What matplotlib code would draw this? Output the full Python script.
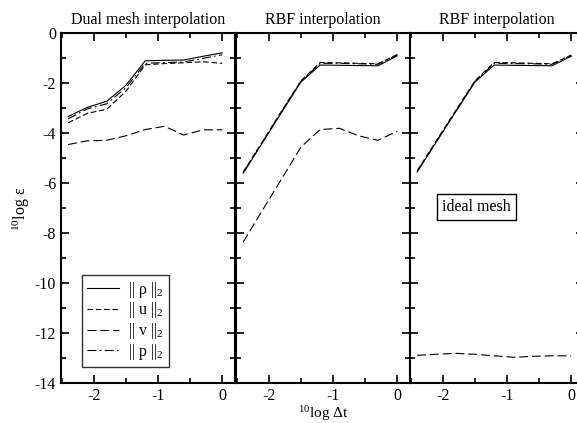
import numpy as np
import matplotlib
matplotlib.use('Agg')
import matplotlib.pyplot as plt
from matplotlib.ticker import MultipleLocator

plt.rcParams['font.family'] = ['Liberation Serif', 'DejaVu Serif']
plt.rcParams['mathtext.fontset'] = 'custom'
plt.rcParams['mathtext.rm'] = 'Liberation Serif'
plt.rcParams['mathtext.it'] = 'Liberation Serif:italic'
plt.rcParams['axes.unicode_minus'] = False

# log10 of the time step (dt = 1, 1/2, 1/4, ...)
log_dt = [-2.408, -2.107, -1.806, -1.505, -1.204, -0.903, -0.602, -0.301, 0.0]

# dual mesh interpolation
dual_rho = [-3.33, -2.96, -2.72, -2.08, -1.10, -1.08, -1.07, -0.92, -0.78]
dual_u = [-3.58, -3.20, -3.04, -2.32, -1.26, -1.21, -1.18, -1.14, -1.20]
dual_v = [-4.45, -4.30, -4.28, -4.10, -3.85, -3.72, -4.07, -3.86, -3.86]
dual_p = [-3.42, -3.02, -2.82, -2.18, -1.20, -1.17, -1.15, -1.00, -0.86]

# RBF interpolation
rbf_rho = [-5.60, -4.38, -3.16, -1.95, -1.27, -1.28, -1.29, -1.30, -0.90]
rbf_u = [-5.55, -4.33, -3.10, -1.90, -1.17, -1.18, -1.20, -1.22, -0.85]
rbf_v = [-8.35, -7.08, -5.82, -4.55, -3.85, -3.80, -4.10, -4.28, -3.92]
rbf_p = [-5.58, -4.36, -3.13, -1.92, -1.20, -1.20, -1.22, -1.24, -0.87]

# RBF interpolation, ideal mesh
ideal_rho = [-5.55, -4.34, -3.14, -1.95, -1.27, -1.28, -1.29, -1.30, -0.92]
ideal_u = [-5.50, -4.29, -3.09, -1.90, -1.17, -1.18, -1.20, -1.22, -0.87]
ideal_v = [-12.88, -12.84, -12.80, -12.84, -12.90, -12.96, -12.92, -12.90, -12.90]
ideal_p = [-5.53, -4.32, -3.12, -1.93, -1.20, -1.21, -1.22, -1.24, -0.89]

titles = ['Dual mesh interpolation', 'RBF interpolation', 'RBF interpolation']
panels = [
    (dual_rho, dual_u, dual_v, dual_p),
    (rbf_rho, rbf_u, rbf_v, rbf_p),
    (ideal_rho, ideal_u, ideal_v, ideal_p),
]
labels = [r'|| ρ ||$_2$', r'|| u ||$_2$', r'|| v ||$_2$', r'|| p ||$_2$']
styles = ['-', (0, (5, 2.5)), (0, (8, 3.5)), (0, (8, 3, 1.5, 3))]

W, H = 577, 423
fig = plt.figure(figsize=(W / 100, H / 100), dpi=100)

x0 = [61, 236, 410]
pw = 174
bottom = (H - 383.3) / H
height = (383.3 - 33.3) / H
fs = 11.5

axes = []
for i in range(3):
    ax = fig.add_axes([x0[i] / W, bottom, pw / W, height])
    axes.append(ax)
    for s, lab, ls in zip(panels[i], labels, styles):
        ax.plot(log_dt, s, color='black', lw=0.8, ls=ls, label=lab)
    ax.set_xlim(-2.52, 0.2)
    ax.set_ylim(-14, 0)
    ax.xaxis.set_major_locator(MultipleLocator(1))
    ax.xaxis.set_minor_locator(MultipleLocator(0.5))
    ax.yaxis.set_major_locator(MultipleLocator(2))
    ax.yaxis.set_minor_locator(MultipleLocator(1))
    ax.tick_params(which='both', direction='in', top=True, right=True,
                   width=1.2, labelsize=fs)
    ax.tick_params(which='major', length=6)
    ax.tick_params(which='minor', length=3.5)
    for sp in ax.spines.values():
        sp.set_linewidth(1.5)
    ax.set_title(titles[i], fontsize=fs, pad=7)
    if i > 0:
        ax.set_yticklabels([])

axes[0].set_ylabel(r'$^{10}$log ε', fontsize=fs, labelpad=2)
axes[1].set_xlabel(r'$^{10}$log Δt', fontsize=11, labelpad=0)

leg = axes[0].legend(loc='lower left', bbox_to_anchor=(0.12, 0.047),
                     borderaxespad=0, fontsize=fs, handlelength=2.0,
                     frameon=True, fancybox=False, borderpad=0.3,
                     labelspacing=0.05, handletextpad=0.6)
leg.get_frame().set_edgecolor('black')
leg.get_frame().set_linewidth(1.0)

axes[2].text(-1.48, -6.95, 'ideal mesh', fontsize=fs, ha='center', va='center',
             bbox=dict(boxstyle='square,pad=0.3', fc='white', ec='black', lw=1.0))

fig.savefig('out.png', dpi=100)
